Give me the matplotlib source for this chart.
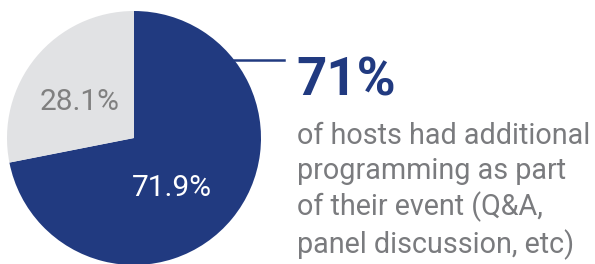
import matplotlib as mpl
from matplotlib import pyplot as plt

mpl.rc('font', family='Roboto')

labels = ['71.9%', '28.1%']
values = [71.9, 28.1]
colors = ['#213a80', '#e1e2e4']
label_colors = ['white', '#808080']
headline = '71%'
body = 'of hosts had additional\nprogramming as part\nof their event (Q&A,\npanel discussion, etc)'

W, H = 595, 264
fig = plt.figure(figsize=(W / 100, H / 100), dpi=100)

# pie axes: centre (134, 138), radius 127 px
r = 127
cx, cy = 134, 138
ax = fig.add_axes([(cx - r) / W, 1 - (cy + r) / H, 2 * r / W, 2 * r / H])
wedges, texts = ax.pie(values, colors=colors, startangle=90, counterclock=False,
                       labels=labels, labeldistance=0.5,
                       textprops={'fontsize': 21.5})
# nudge labels to where the reference has them
label_pos = [(0.30, -0.39), (-0.43, 0.28)]
for t, c, p in zip(texts, label_colors, label_pos):
    t.set_color(c)
    t.set_position(p)
    t.set_ha('center')
    t.set_va('center')
ax.set_xlim(-1, 1)
ax.set_ylim(-1, 1)
ax.set_aspect('equal')
ax.axis('off')

# leader line and callout text
fig.add_artist(plt.Line2D([234 / W, 284 / W], [1 - 60 / H, 1 - 60 / H],
                          color='#213a80', lw=1.8))
fig.text(296 / W, 1 - 96 / H, headline, fontsize=38, fontweight='bold',
         color='#213a80', va='baseline', ha='left')
fig.text(297 / W, 1 - 253 / H, body, fontsize=20.7, color='#7a7b7e',
         va='baseline', ha='left', linespacing=1.29)

plt.savefig('out.png', dpi=100)
